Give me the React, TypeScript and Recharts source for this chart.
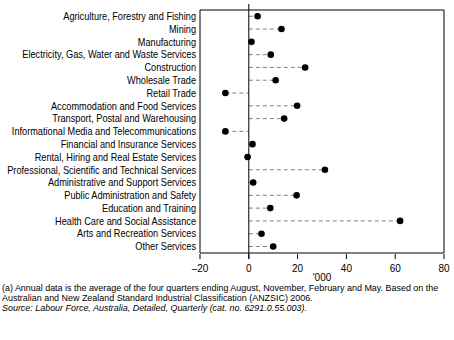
import { Bar, ComposedChart, ReferenceArea, ReferenceLine, XAxis, YAxis } from "recharts";

const industries = [
	"Agriculture, Forestry and Fishing",
	"Mining",
	"Manufacturing",
	"Electricity, Gas, Water and Waste Services",
	"Construction",
	"Wholesale Trade",
	"Retail Trade",
	"Accommodation and Food Services",
	"Transport, Postal and Warehousing",
	"Informational Media and Telecommunications",
	"Financial and Insurance Services",
	"Rental, Hiring and Real Estate Services",
	"Professional, Scientific and Technical Services",
	"Administrative and Support Services",
	"Public Administration and Safety",
	"Education and Training",
	"Health Care and Social Assistance",
	"Arts and Recreation Services",
	"Other Services",
];

// change in employment, '000
const change = [3.6, 13.4, 1.1, 9.0, 23.1, 11.0, -9.6, 19.8, 14.5, -9.6, 1.5, -0.5, 31.2, 1.8, 19.6, 8.8, 62.0, 5.2, 10.0];

const xTicks = [-20, 0, 20, 40, 60, 80];

const data = industries.map((name, i) => ({ name, value: change[i] }));

const FONT = "'Liberation Sans', Arial, sans-serif";

function DotLine(props: any) {
	const { x, y, width, height, payload } = props;
	const a = x;
	const b = x + width;
	const end = payload.value >= 0 ? Math.max(a, b) : Math.min(a, b);
	const cy = y + height / 2;
	return (
		<g>
			<line
				x1={Math.min(a, b)}
				x2={Math.max(a, b)}
				y1={cy}
				y2={cy}
				stroke="#808080"
				strokeDasharray="4 3"
			/>
			<circle cx={end} cy={cy} r={3.3} fill="#000" />
		</g>
	);
}

// narrow label, no wrapping
function CategoryTick(props: any) {
	const { x, y, payload } = props;
	return (
		<text
			transform={`translate(${x},${y}) scale(0.92,1)`}
			textAnchor="end"
			dominantBaseline="central"
			fontSize={10}
			fontFamily={FONT}
			fill="#000"
		>
			{payload.value}
		</text>
	);
}

const fmt = (v: number) => (v < 0 ? `\u2013${-v}` : `${v}`);

export default function App() {
	return (
		<div
			style={{
				position: "absolute",
				left: 0,
				top: 0,
				width: 454,
				height: 340,
				background: "#fff",
				fontFamily: FONT,
			}}
		>
			<ComposedChart
				width={454}
				height={290}
				data={data}
				layout="vertical"
				margin={{ top: 4, right: 10, bottom: 0, left: 0 }}
			>
				<XAxis
					type="number"
					domain={[-20, 80]}
					ticks={xTicks}
					allowDataOverflow
					axisLine={false}
					tickLine={{ stroke: "#000" }}
					tickSize={-5}
					tickMargin={11}
					height={31}
					tickFormatter={fmt}
					tick={{ fontSize: 10, fill: "#000", fontFamily: FONT }}
					label={{ value: "'000", position: "insideBottom", offset: 9, fontSize: 10, fill: "#000", fontFamily: FONT }}
				/>
				<XAxis
					xAxisId="top"
					orientation="top"
					type="number"
					domain={[-20, 80]}
					ticks={xTicks}
					allowDataOverflow
					axisLine={false}
					tickLine={{ stroke: "#000" }}
					tickSize={-5}
					height={0}
					tick={() => <g />}
				/>
				<YAxis
					type="category"
					dataKey="name"
					width={200}
					interval={0}
					axisLine={false}
					tickLine={false}
					tickSize={0}
					tickMargin={4}
					padding={{ top: 6, bottom: 6 }}
					tick={CategoryTick}
				/>
				<ReferenceArea x1={-20} x2={80} fill="none" stroke="#000" strokeWidth={1} fillOpacity={0} />
				<ReferenceLine x={0} stroke="#000" />
				<Bar dataKey="value" shape={DotLine} isAnimationActive={false} />
			</ComposedChart>
			<div
				style={{
					position: "absolute",
					left: 2,
					top: 283,
					fontSize: 9.5,
					lineHeight: "10px",
					color: "#000",
					whiteSpace: "nowrap",
					transform: "scaleX(0.94)",
					transformOrigin: "left top",
				}}
			>
				<div>
					(a) Annual data is the average of the four quarters ending August, November, February and May. Based on the
					<br />
					Australian and New Zealand Standard Industrial Classification (ANZSIC) 2006.
				</div>
				<div style={{ marginTop: 0, fontStyle: "italic" }}>
					Source: Labour Force, Australia, Detailed, Quarterly (cat. no. 6291.0.55.003).
				</div>
			</div>
		</div>
	);
}
